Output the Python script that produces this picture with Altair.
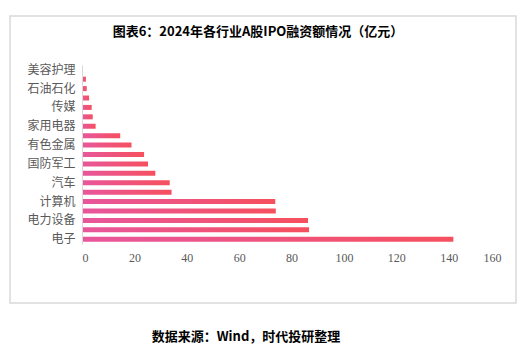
import altair as alt
import pandas as pd

categories = ["美容护理", "纺织服饰", "石油石化", "建筑装饰", "传媒", "食品饮料", "家用电器",
              "交通运输", "有色金属", "轻工制造", "国防军工", "公用事业", "汽车", "医药生物",
              "计算机", "基础化工", "电力设备", "机械设备", "电子"]
values = [0.1, 1.5, 1.8, 2.7, 3.7, 4.1, 5.2, 14.6, 18.9, 23.7, 25.2, 28.0, 33.5, 34.2,
          73.8, 74.0, 86.3, 86.7, 141.8]
x_ticks = [0, 20, 40, 60, 80, 100, 120, 140, 160]
title_text = "图表6：2024年各行业A股IPO融资额情况（亿元）"
source_text = "数据来源：Wind，时代投研整理"

df = pd.DataFrame({"industry": categories, "amount": values})

W, H = 419, 179

border = alt.Chart(alt.Data(values=[{}])).mark_rect(
    fill="white", fillOpacity=0, stroke="#d9d9d9", strokeWidth=1.5
).encode(
    x=alt.value(-72), x2=alt.value(434), y=alt.value(-49), y2=alt.value(238)
)

bars = alt.Chart(df).mark_bar(
    fill=alt.Gradient(
        gradient="linear", x1=0, x2=1, y1=0, y2=0,
        stops=[alt.GradientStop(color="#e8579c", offset=0),
               alt.GradientStop(color="#f6505e", offset=1)]
    )
).encode(
    x=alt.X("amount:Q", scale=alt.Scale(domain=[0, 160], nice=False),
            axis=alt.Axis(values=x_ticks, title=None, grid=False, domain=False, ticks=False,
                          labelFont="Liberation Serif", labelFontSize=12, labelColor="#595959",
                          labelPadding=8, zindex=1)),
    y=alt.Y("industry:N", sort=categories,
            scale=alt.Scale(paddingInner=0.47, paddingOuter=0.24),
            axis=alt.Axis(title=None, ticks=False, domain=True, domainColor="#d9d9d9",
                          labelFont="Noto Sans CJK SC", labelFontSize=12, labelColor="#595959",
                          labelPadding=7, labelOverlap="parity", zindex=1)),
)

title = alt.Chart(alt.Data(values=[{"t": title_text}])).mark_text(
    font="Noto Sans CJK SC", fontSize=13, fontWeight="bold", color="#000000",
    baseline="middle", align="center"
).encode(text="t:N", x=alt.value(176), y=alt.value(-33))

source = alt.Chart(alt.Data(values=[{"t": source_text}])).mark_text(
    font="Noto Sans CJK SC", fontSize=13, fontWeight="bold", color="#000000",
    baseline="middle", align="center"
).encode(text="t:N", x=alt.value(164), y=alt.value(272))

chart = alt.layer(border, bars, title, source).properties(
    width=W, height=H,
    autosize=alt.AutoSizeParams(type="none"),
    padding={"left": 74, "top": 57, "right": 20, "bottom": 100},
    background="white"
).configure_view(stroke=None)

chart.save("out.html", embed_options={"renderer": "svg", "actions": False})
